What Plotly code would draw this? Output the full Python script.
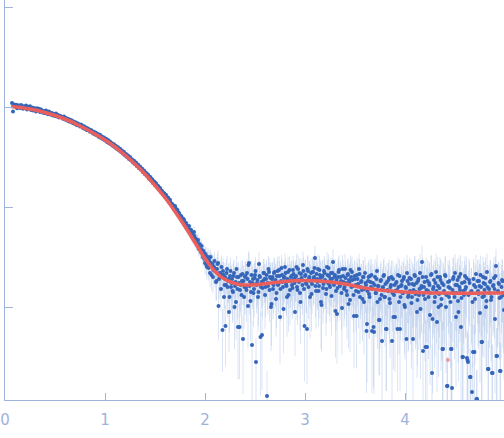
import numpy as np
import plotly.graph_objects as go

# scattering vector (nm^-1), main frames
q = [
    0.07, 0.08, 0.09, 0.10, 0.11, 0.12, 0.13, 0.14, 0.15, 0.16,
    0.17, 0.18, 0.19, 0.20, 0.21, 0.22, 0.23, 0.24, 0.25, 0.26,
    0.27, 0.28, 0.29, 0.30, 0.31, 0.32, 0.33, 0.34, 0.35, 0.36,
    0.37, 0.38, 0.39, 0.40, 0.41, 0.42, 0.43, 0.44, 0.45, 0.46,
    0.47, 0.48, 0.49, 0.50, 0.51, 0.52, 0.53, 0.54, 0.55, 0.56,
    0.57, 0.58, 0.59, 0.60, 0.61, 0.62, 0.63, 0.64, 0.65, 0.66,
    0.67, 0.68, 0.69, 0.70, 0.71, 0.72, 0.73, 0.74, 0.75, 0.76,
    0.77, 0.78, 0.79, 0.80, 0.81, 0.82, 0.83, 0.84, 0.85, 0.86,
    0.87, 0.88, 0.89, 0.90, 0.91, 0.92, 0.93, 0.94, 0.95, 0.96,
    0.97, 0.98, 0.99, 1.00, 1.01, 1.02, 1.03, 1.04, 1.05, 1.06,
    1.07, 1.08, 1.09, 1.10, 1.11, 1.12, 1.13, 1.14, 1.15, 1.16,
    1.17, 1.18, 1.19, 1.20, 1.21, 1.22, 1.23, 1.24, 1.25, 1.26,
    1.27, 1.28, 1.29, 1.30, 1.31, 1.32, 1.33, 1.34, 1.35, 1.36,
    1.37, 1.38, 1.39, 1.40, 1.41, 1.42, 1.43, 1.44, 1.45, 1.46,
    1.47, 1.48, 1.49, 1.50, 1.51, 1.52, 1.53, 1.54, 1.55, 1.56,
    1.57, 1.58, 1.59, 1.60, 1.61, 1.62, 1.63, 1.64, 1.65, 1.66,
    1.67, 1.68, 1.69, 1.70, 1.71, 1.72, 1.73, 1.74, 1.75, 1.76,
    1.77, 1.78, 1.79, 1.80, 1.81, 1.82, 1.83, 1.84, 1.85, 1.86,
    1.87, 1.88, 1.89, 1.90, 1.91, 1.92, 1.93, 1.94, 1.95, 1.96,
    1.97, 1.98, 1.99, 2.00, 2.01, 2.02, 2.03, 2.04, 2.05, 2.06,
    2.07, 2.08, 2.09, 2.10, 2.11, 2.12, 2.13, 2.14, 2.15, 2.16,
    2.17, 2.18, 2.19, 2.20, 2.21, 2.22, 2.23, 2.24, 2.25, 2.26,
    2.27, 2.28, 2.29, 2.30, 2.31, 2.32, 2.33, 2.34, 2.35, 2.36,
    2.37, 2.38, 2.39, 2.40, 2.41, 2.42, 2.43, 2.44, 2.45, 2.46,
    2.47, 2.48, 2.49, 2.50, 2.51, 2.52, 2.53, 2.54, 2.55, 2.56,
    2.57, 2.58, 2.59, 2.60, 2.61, 2.62, 2.63, 2.64, 2.65, 2.66,
    2.67, 2.68, 2.69, 2.70, 2.71, 2.72, 2.73, 2.74, 2.75, 2.76,
    2.77, 2.78, 2.79, 2.80, 2.81, 2.82, 2.83, 2.84, 2.85, 2.86,
    2.87, 2.88, 2.89, 2.90, 2.91, 2.92, 2.93, 2.94, 2.95, 2.96,
    2.97, 2.98, 2.99, 3.00, 3.01, 3.02, 3.03, 3.04, 3.05, 3.06,
    3.07, 3.08, 3.09, 3.10, 3.11, 3.12, 3.13, 3.14, 3.15, 3.16,
    3.17, 3.18, 3.19, 3.20, 3.21, 3.22, 3.23, 3.24, 3.25, 3.26,
    3.27, 3.28, 3.29, 3.30, 3.31, 3.32, 3.33, 3.34, 3.35, 3.36,
    3.37, 3.38, 3.39, 3.40, 3.41, 3.42, 3.43, 3.44, 3.45, 3.46,
    3.47, 3.48, 3.49, 3.50, 3.51, 3.52, 3.53, 3.54, 3.55, 3.56,
    3.57, 3.58, 3.59, 3.60, 3.61, 3.62, 3.63, 3.64, 3.65, 3.66,
    3.67, 3.68, 3.69, 3.70, 3.71, 3.72, 3.73, 3.74, 3.75, 3.76,
    3.77, 3.78, 3.79, 3.80, 3.81, 3.82, 3.83, 3.84, 3.85, 3.86,
    3.87, 3.88, 3.89, 3.90, 3.91, 3.92, 3.93, 3.94, 3.95, 3.96,
    3.97, 3.98, 3.99, 4.00, 4.01, 4.02, 4.03, 4.04, 4.05, 4.06,
    4.07, 4.08, 4.09, 4.10, 4.11, 4.12, 4.13, 4.14, 4.15, 4.16,
    4.17, 4.18, 4.19, 4.20, 4.21, 4.22, 4.23, 4.24, 4.25, 4.26,
    4.27, 4.28, 4.29, 4.30, 4.31, 4.32, 4.33, 4.34, 4.35, 4.36,
    4.37, 4.38, 4.39, 4.40, 4.41, 4.42, 4.43, 4.44, 4.45, 4.46,
    4.47, 4.48, 4.49, 4.50, 4.51, 4.52, 4.53, 4.54, 4.55, 4.56,
    4.57, 4.58, 4.59, 4.60, 4.61, 4.62, 4.63, 4.64, 4.65, 4.66,
    4.67, 4.68, 4.69, 4.70, 4.71, 4.72, 4.73, 4.74, 4.75, 4.76,
    4.77, 4.78, 4.79, 4.80, 4.81, 4.82, 4.83, 4.84, 4.85, 4.86,
    4.87, 4.88, 4.89, 4.90, 4.91, 4.92, 4.93, 4.94, 4.95, 4.96,
    4.97, 4.98, 4.99,
]

# log10 of the measured intensity, main frames
log_i = [
    0.04, -0.045, 0.025, 0.01, 0.022, -0.012, 0.018, 0.008, -0.01, 0.02,
    0.012, -0.018, 0.006, -0.004, 0.014, -0.026, 0.002, -0.01, 0.008, -0.03,
    -0.004, -0.036, -0.01, -0.022, -0.045, -0.012, -0.028, -0.018, -0.05, -0.024,
    -0.034, -0.058, -0.04, -0.062, -0.036, -0.05, -0.072, -0.046, -0.06, -0.078,
    -0.06, -0.085, -0.07, -0.09, -0.066, -0.096, -0.08, -0.105, -0.088, -0.094,
    -0.1, -0.118, -0.096, -0.126, -0.11, -0.134, -0.118, -0.144, -0.128, -0.15,
    -0.134, -0.162, -0.148, -0.17, -0.155, -0.182, -0.166, -0.178, -0.194, -0.176,
    -0.186, -0.21, -0.192, -0.22, -0.204, -0.232, -0.214, -0.226, -0.248, -0.23,
    -0.24, -0.264, -0.248, -0.276, -0.258, -0.285, -0.27, -0.3, -0.278, -0.31,
    -0.296, -0.322, -0.305, -0.334, -0.318, -0.35, -0.33, -0.362, -0.345, -0.375,
    -0.362, -0.39, -0.372, -0.405, -0.39, -0.42, -0.402, -0.436, -0.418, -0.45,
    -0.436, -0.468, -0.45, -0.484, -0.47, -0.5, -0.486, -0.52, -0.5, -0.536,
    -0.522, -0.556, -0.538, -0.572, -0.556, -0.592, -0.575, -0.612, -0.596, -0.628,
    -0.616, -0.652, -0.634, -0.672, -0.66, -0.69, -0.68, -0.718, -0.7, -0.735,
    -0.722, -0.76, -0.745, -0.78, -0.764, -0.8, -0.79, -0.826, -0.81, -0.85,
    -0.84, -0.876, -0.862, -0.9, -0.88, -0.925, -0.905, -0.95, -0.93, -0.975,
    -0.97, -1.0, -1.02, -0.99, -1.04, -1.03, -1.07, -1.06, -1.1, -1.09,
    -1.12, -1.15, -1.13, -1.18, -1.16, -1.2, -1.22, -1.19, -1.26, -1.23,
    -1.28, -1.31, -1.25, -1.34, -1.32, -1.37, -1.33, -1.42, -1.38, -1.45,
    -1.43, -1.5, -1.46, -1.56, -1.49, -1.6, -1.5, -1.53, -1.66, -1.56,
    -1.58, -1.7, -1.6, -1.64, -1.75, -1.62, -1.56, -1.72, -1.66, -1.82,
    -1.68, -1.64, -1.9, -1.7, -1.78, -1.62, -1.74, -2.05, -1.69, -1.8,
    -1.72, -1.85, -1.66, -1.79, -1.95, -1.7, -2.2, -1.76, -1.83, -1.68,
    -1.74, -2.32, -1.9, -1.7, -1.8, -1.66, -1.99, -1.56, -1.75, -1.85,
    -2.38, -1.72, -1.82, -1.68, -2.55, -1.76, -1.9, -1.57, -1.7, -1.8,
    -2.28, -1.74, -1.66, -1.88, -1.72, -2.89, -1.79, -1.65, -1.7, -2.0,
    -1.72, -1.82, -1.66, -1.75, -1.92, -1.69, -1.78, -1.63, -2.1, -1.74,
    -1.68, -1.8, -1.71, -1.6, -1.77, -1.9, -1.65, -1.74, -1.83, -1.7,
    -1.78, -1.63, -1.72, -2.05, -1.69, -1.8, -1.62, -1.75, -1.86, -1.67,
    -1.73, -1.58, -1.82, -1.69, -1.76, -2.22, -1.64, -1.71, -1.9, -1.66,
    -1.77, -1.65, -1.7, -1.51, -1.84, -1.72, -1.62, -1.79, -1.68, -1.95,
    -1.7, -1.81, -1.64, -1.73, -1.87, -1.6, -1.76, -1.69, -1.8, -1.66,
    -1.72, -1.55, -1.78, -1.68, -1.84, -2.07, -1.7, -1.63, -1.79, -1.74,
    -2.01, -1.69, -1.82, -1.62, -1.76, -1.88, -1.67, -1.73, -1.93, -1.7,
    -1.65, -1.79, -2.09, -1.72, -1.84, -1.68, -1.77, -1.62, -1.9, -1.75,
    -1.83, -1.7, -1.95, -1.66, -1.78, -2.17, -1.74, -1.87, -1.69, -1.8,
    -2.24, -1.76, -2.25, -1.7, -1.86, -1.64, -1.79, -2.13, -1.92, -1.73,
    -2.34, -1.8, -1.68, -1.9, -2.22, -1.75, -1.84, -1.71, -1.96, -1.78,
    -2.34, -1.72, -1.88, -2.1, -1.76, -1.83, -1.68, -1.95, -2.22, -1.79,
    -1.74, -1.86, -1.7, -2.0, -1.81, -1.66, -1.9, -1.77, -1.84, -1.72,
    -1.9, -2.32, -1.78, -1.69, -1.85, -2.05, -1.74, -1.88, -1.66, -1.81,
    -1.55, -2.44, -1.8, -1.92, -1.7, -2.4, -1.84, -1.76, -2.08, -1.68,
    -2.66, -1.82, -1.73, -1.9, -1.65, -2.15, -1.79, -1.87, -1.7, -1.98,
    -1.76, -2.42, -1.84, -1.68, -2.0, -2.79, -1.75, -1.9, -1.81, -2.42,
    -2.81, -1.72, -1.86, -1.66, -2.1, -1.78, -1.94, -1.7, -1.83, -2.2,
    -1.76, -2.5, -1.88, -1.69, -1.8, -2.51, -2.55, -1.73, -2.7, -1.85,
    -2.85, -2.45, -1.78, -1.92, -1.67, -2.92, -1.84, -1.74, -2.06, -1.8,
    -2.35, -1.7, -1.89, -1.77, -2.0, -1.65, -2.62, -1.82, -1.75, -1.93,
    -2.66, -1.79, -1.71, -2.12, -1.59, -2.49, -1.84, -1.77, -2.64, -1.9,
    -1.73, -1.86, -2.03,
]

# error of each point, percent of its intensity
err_pct = [
    1, 1, 1, 1, 1, 1, 1, 1, 1, 1,
    1, 1, 1, 1, 1, 1, 1, 1, 1, 1,
    1, 1, 1, 1, 1, 1, 1, 1, 1, 1,
    1, 1, 1, 1, 1, 1, 1, 1, 1, 1,
    1, 1, 1, 1, 1, 1, 1, 1, 1, 1,
    1, 1, 1, 1, 1, 1, 1, 1, 1, 1,
    1, 1, 1, 1, 1, 1, 1, 1, 1, 1,
    1, 1, 1, 1, 1, 1, 1, 1, 1, 1,
    1, 1, 1, 1, 1, 1, 1, 1, 1, 1,
    2, 2, 2, 2, 2, 2, 2, 2, 2, 2,
    2, 2, 2, 2, 2, 2, 2, 2, 2, 2,
    2, 2, 2, 2, 2, 2, 2, 2, 2, 2,
    2, 2, 2, 2, 2, 2, 2, 2, 2, 2,
    2, 2, 2, 2, 2, 2, 2, 2, 2, 2,
    3, 3, 3, 3, 3, 3, 4, 3, 4, 4,
    4, 4, 5, 4, 5, 5, 5, 6, 5, 6,
    6, 6, 7, 6, 7, 8, 7, 8, 8, 9,
    9, 10, 9, 11, 10, 12, 12, 11, 13, 12,
    14, 13, 15, 14, 16, 15, 17, 16, 18, 17,
    19, 21, 20, 23, 22, 25, 24, 26, 28, 27,
    29, 31, 30, 33, 35, 32, 34, 37, 36, 40,
    36, 34, 50, 38, 42, 35, 40, 60, 37, 44,
    40, 48, 36, 44, 58, 38, 70, 42, 46, 38,
    42, 72, 52, 40, 46, 38, 62, 32, 44, 50,
    74, 42, 48, 40, 76, 45, 55, 32, 42, 48,
    72, 44, 38, 54, 43, 78, 48, 38, 42, 64,
    45, 50, 40, 46, 58, 42, 50, 38, 66, 46,
    43, 52, 45, 36, 49, 60, 41, 47, 55, 44,
    50, 38, 46, 64, 44, 53, 38, 48, 58, 43,
    48, 36, 56, 45, 50, 72, 41, 47, 62, 42,
    50, 42, 46, 32, 58, 48, 40, 53, 45, 66,
    46, 56, 41, 49, 62, 40, 51, 46, 55, 43,
    48, 34, 53, 45, 60, 68, 46, 41, 55, 50,
    66, 46, 58, 41, 52, 64, 44, 50, 70, 48,
    43, 55, 70, 50, 61, 46, 54, 42, 66, 52,
    60, 48, 70, 45, 56, 74, 52, 64, 48, 58,
    76, 55, 76, 50, 64, 45, 58, 72, 68, 53,
    78, 60, 48, 68, 76, 55, 63, 51, 72, 57,
    78, 53, 66, 72, 58, 64, 50, 70, 76, 60,
    57, 68, 54, 70, 64, 52, 72, 60, 66, 56,
    72, 85, 62, 56, 70, 78, 60, 72, 55, 66,
    45, 88, 66, 76, 56, 86, 70, 64, 80, 55,
    92, 68, 60, 74, 52, 80, 66, 72, 58, 78,
    66, 88, 70, 56, 78, 94, 64, 76, 68, 88,
    94, 62, 72, 55, 80, 66, 76, 60, 70, 84,
    66, 90, 74, 58, 68, 90, 91, 62, 93, 72,
    94, 88, 68, 78, 56, 95, 72, 64, 80, 68,
    86, 60, 76, 66, 78, 54, 92, 70, 65, 76,
    92, 68, 62, 82, 48, 90, 72, 66, 92, 76,
    62, 72, 80,
]

# interleaved frames across the decay
q3 = [
    1.405, 1.415, 1.425, 1.435, 1.445, 1.455, 1.465, 1.475, 1.485, 1.495,
    1.505, 1.515, 1.525, 1.535, 1.545, 1.555, 1.565, 1.575, 1.585, 1.595,
    1.605, 1.615, 1.625, 1.635, 1.645, 1.655, 1.665, 1.675, 1.685, 1.695,
    1.705, 1.715, 1.725, 1.735, 1.745, 1.755, 1.765, 1.775, 1.785, 1.795,
    1.805, 1.815, 1.825, 1.835, 1.845, 1.855, 1.865, 1.875, 1.885, 1.895,
    1.905, 1.915, 1.925, 1.935, 1.945, 1.955, 1.965, 1.975, 1.985, 1.995,
]

log_i3 = [
    -0.655, -0.67, -0.672, -0.69, -0.7, -0.705, -0.722, -0.73, -0.748, -0.752,
    -0.76, -0.785, -0.79, -0.8, -0.815, -0.83, -0.835, -0.85, -0.87, -0.868,
    -0.88, -0.905, -0.91, -0.93, -0.925, -0.955, -0.97, -0.975, -0.99, -1.01,
    -1.01, -1.045, -1.03, -1.06, -1.08, -1.09, -1.1, -1.13, -1.12, -1.16,
    -1.16, -1.2, -1.19, -1.21, -1.24, -1.23, -1.27, -1.26, -1.3, -1.29,
    -1.32, -1.36, -1.34, -1.4, -1.37, -1.43, -1.39, -1.47, -1.44, -1.52,
]

err_pct3 = [
    2, 2, 2, 2, 2, 2, 2, 2, 2, 2,
    3, 3, 3, 3, 3, 3, 3, 3, 3, 3,
    5, 5, 5, 5, 5, 5, 5, 5, 5, 5,
    7, 7, 7, 7, 7, 7, 7, 7, 7, 7,
    10, 11, 10, 12, 11, 10, 12, 11, 12, 12,
    15, 16, 15, 17, 16, 18, 17, 16, 18, 17,
]

# interleaved frames at high q
q2 = [
    2.005, 2.015, 2.025, 2.035, 2.045, 2.055, 2.065, 2.075, 2.085, 2.095,
    2.105, 2.115, 2.125, 2.135, 2.145, 2.155, 2.165, 2.175, 2.185, 2.195,
    2.205, 2.215, 2.225, 2.235, 2.245, 2.255, 2.265, 2.275, 2.285, 2.295,
    2.305, 2.315, 2.325, 2.335, 2.345, 2.355, 2.365, 2.375, 2.385, 2.395,
    2.405, 2.415, 2.425, 2.435, 2.445, 2.455, 2.465, 2.475, 2.485, 2.495,
    2.505, 2.515, 2.525, 2.535, 2.545, 2.555, 2.565, 2.575, 2.585, 2.595,
    2.605, 2.615, 2.625, 2.635, 2.645, 2.655, 2.665, 2.675, 2.685, 2.695,
    2.705, 2.715, 2.725, 2.735, 2.745, 2.755, 2.765, 2.775, 2.785, 2.795,
    2.805, 2.815, 2.825, 2.835, 2.845, 2.855, 2.865, 2.875, 2.885, 2.895,
    2.905, 2.915, 2.925, 2.935, 2.945, 2.955, 2.965, 2.975, 2.985, 2.995,
    3.005, 3.015, 3.025, 3.035, 3.045, 3.055, 3.065, 3.075, 3.085, 3.095,
    3.105, 3.115, 3.125, 3.135, 3.145, 3.155, 3.165, 3.175, 3.185, 3.195,
    3.205, 3.215, 3.225, 3.235, 3.245, 3.255, 3.265, 3.275, 3.285, 3.295,
    3.305, 3.315, 3.325, 3.335, 3.345, 3.355, 3.365, 3.375, 3.385, 3.395,
    3.405, 3.415, 3.425, 3.435, 3.445, 3.455, 3.465, 3.475, 3.485, 3.495,
    3.505, 3.515, 3.525, 3.535, 3.545, 3.555, 3.565, 3.575, 3.585, 3.595,
    3.605, 3.615, 3.625, 3.635, 3.645, 3.655, 3.665, 3.675, 3.685, 3.695,
    3.705, 3.715, 3.725, 3.735, 3.745, 3.755, 3.765, 3.775, 3.785, 3.795,
    3.805, 3.815, 3.825, 3.835, 3.845, 3.855, 3.865, 3.875, 3.885, 3.895,
    3.905, 3.915, 3.925, 3.935, 3.945, 3.955, 3.965, 3.975, 3.985, 3.995,
    4.005, 4.015, 4.025, 4.035, 4.045, 4.055, 4.065, 4.075, 4.085, 4.095,
    4.105, 4.115, 4.125, 4.135, 4.145, 4.155, 4.165, 4.175, 4.185, 4.195,
    4.205, 4.215, 4.225, 4.235, 4.245, 4.255, 4.265, 4.275, 4.285, 4.295,
    4.305, 4.315, 4.325, 4.335, 4.345, 4.355, 4.365, 4.375, 4.385, 4.395,
    4.405, 4.415, 4.425, 4.435, 4.445, 4.455, 4.465, 4.475, 4.485, 4.495,
    4.505, 4.515, 4.525, 4.535, 4.545, 4.555, 4.565, 4.575, 4.585, 4.595,
    4.605, 4.615, 4.625, 4.635, 4.645, 4.655, 4.665, 4.675, 4.685, 4.695,
    4.705, 4.715, 4.725, 4.735, 4.745, 4.755, 4.765, 4.775, 4.785, 4.795,
    4.805, 4.815, 4.825, 4.835, 4.845, 4.855, 4.865, 4.875, 4.885, 4.895,
    4.905, 4.915, 4.925, 4.935, 4.945, 4.955, 4.965, 4.975, 4.985,
]

log_i2 = [
    -1.47, -1.58, -1.52, -1.61, -1.55, -1.5, -1.68, -1.57, -1.63, -1.54,
    -1.62, -1.74, -1.57, -1.99, -1.66, -1.7, -1.6, -2.23, -1.68, -1.78,
    -2.19, -1.66, -1.8, -1.72, -1.9, -1.64, -1.76, -1.84, -1.69, -2.0,
    -1.75, -1.62, -1.82, -1.7, -2.2, -1.78, -1.88, -1.67, -1.74, -1.8,
    -1.69, -1.83, -1.72, -1.58, -1.79, -1.94, -1.68, -1.76, -1.86, -1.71,
    -1.64, -1.78, -1.73, -1.85, -1.69, -2.3, -1.75, -1.81, -1.66, -1.72,
    -1.8, -1.68, -1.76, -1.62, -1.83, -1.71, -1.97, -1.7, -1.78, -1.65,
    -1.73, -1.86, -1.64, -1.77, -1.69, -1.82, -1.61, -1.75, -2.02, -1.7,
    -1.66, -1.79, -1.72, -1.88, -1.63, -1.74, -1.69, -1.81, -1.67, -1.76,
    -1.7, -1.6, -1.83, -1.73, -1.66, -1.95, -1.71, -1.78, -1.64, -2.19,
    -1.68, -1.77, -1.62, -1.8, -1.7, -1.74, -1.87, -1.65, -1.72, -1.61,
    -1.79, -1.67, -1.75, -1.84, -1.63, -1.71, -1.98, -1.69, -1.77, -1.66,
    -1.74, -1.82, -1.68, -1.61, -1.78, -1.72, -1.89, -1.66, -1.76, -1.7,
    -2.04, -1.73, -1.81, -1.65, -1.77, -1.7, -1.86, -1.62, -1.75, -1.8,
    -1.71, -1.84, -1.68, -1.97, -1.75, -1.63, -1.8, -1.73, -1.88, -1.69,
    -1.78, -2.09, -1.72, -1.85, -1.67, -1.8, -1.74, -1.92, -1.7, -1.82,
    -1.76, -2.24, -1.84, -1.7, -1.9, -1.75, -1.68, -1.82, -2.2, -1.78,
    -1.86, -1.72, -1.95, -1.79, -2.13, -1.74, -1.88, -1.81, -1.69, -1.9,
    -1.77, -2.22, -1.83, -1.73, -1.92, -1.8, -1.7, -1.86, -2.1, -1.78,
    -1.84, -1.75, -2.22, -1.8, -1.69, -1.9, -1.78, -1.86, -1.72, -1.98,
    -1.8, -2.32, -1.74, -1.88, -1.71, -1.85, -1.96, -1.77, -1.83, -1.68,
    -1.87, -1.76, -1.93, -1.72, -1.82, -2.02, -1.79, -1.7, -1.88, -1.75,
    -2.4, -1.83, -1.74, -1.9, -1.78, -1.86, -1.67, -2.12, -1.8, -1.95,
    -1.76, -1.84, -1.7, -2.0, -1.81, -1.73, -1.92, -2.42, -1.78, -1.86,
    -1.69, -1.88, -2.79, -1.8, -1.74, -1.95, -2.42, -1.83, -1.7, -1.9,
    -1.78, -1.86, -1.73, -2.05, -1.8, -1.67, -1.91, -2.5, -1.84, -1.75,
    -1.82, -1.71, -2.53, -1.88, -1.76, -2.7, -1.84, -1.95, -1.72, -2.45,
    -1.8, -2.92, -1.74, -1.87, -1.79, -1.68, -2.35, -1.9, -1.76, -1.83,
    -1.71, -1.94, -1.8, -2.62, -1.86, -1.74, -1.9, -2.66, -1.78, -1.82,
    -1.69, -2.49, -1.85, -1.76, -1.91, -2.64, -1.8, -1.74, -1.88,
]

err_pct2 = [
    18, 22, 20, 25, 22, 19, 30, 24, 28, 23,
    30, 36, 28, 55, 33, 36, 30, 62, 35, 42,
    60, 38, 50, 42, 56, 36, 46, 52, 40, 62,
    44, 35, 50, 40, 70, 46, 55, 38, 43, 48,
    40, 52, 42, 32, 48, 60, 39, 45, 54, 41,
    37, 48, 44, 54, 40, 74, 45, 50, 38, 42,
    50, 41, 46, 36, 52, 42, 62, 41, 48, 38,
    45, 55, 38, 48, 42, 52, 35, 46, 64, 42,
    40, 50, 44, 57, 37, 46, 42, 51, 40, 48,
    43, 36, 55, 46, 40, 62, 44, 50, 38, 72,
    42, 49, 38, 52, 44, 47, 58, 40, 46, 37,
    51, 41, 48, 56, 39, 45, 66, 43, 49, 40,
    47, 54, 42, 37, 51, 46, 60, 41, 49, 44,
    66, 46, 54, 40, 50, 44, 58, 38, 48, 52,
    45, 56, 43, 64, 49, 40, 52, 46, 58, 43,
    50, 70, 46, 57, 42, 52, 48, 62, 45, 54,
    50, 76, 56, 45, 62, 49, 43, 55, 75, 51,
    58, 47, 66, 53, 72, 48, 60, 55, 45, 63,
    52, 76, 56, 48, 64, 53, 46, 59, 70, 52,
    58, 50, 76, 55, 46, 63, 53, 59, 48, 68,
    68, 85, 62, 72, 58, 70, 78, 64, 68, 56,
    72, 64, 78, 58, 68, 80, 65, 56, 72, 62,
    88, 70, 62, 76, 65, 72, 55, 82, 66, 78,
    64, 70, 58, 80, 68, 62, 76, 88, 65, 72,
    56, 72, 94, 66, 62, 78, 88, 70, 58, 76,
    65, 72, 62, 80, 66, 55, 76, 90, 70, 63,
    68, 60, 90, 74, 63, 92, 70, 78, 60, 88,
    66, 95, 62, 72, 66, 56, 86, 74, 63, 70,
    60, 78, 66, 92, 72, 62, 76, 92, 65, 68,
    56, 90, 72, 63, 76, 92, 66, 62, 74,
]

# model fit curve
fit_q = [0.06, 0.1, 0.2, 0.3, 0.4, 0.5, 0.6, 0.7, 0.8, 0.9, 1.0, 1.1, 1.2, 1.3,
         1.4, 1.5, 1.6, 1.7, 1.8, 1.9, 2.0, 2.1, 2.2, 2.3, 2.4, 2.5, 2.6, 2.7,
         2.8, 2.9, 3.0, 3.2, 3.4, 3.6, 3.8, 4.0, 4.2, 4.4, 4.6, 4.8, 5.0]
fit_log = [0.004, 0.0, -0.012, -0.03, -0.055, -0.085, -0.12, -0.165, -0.215,
           -0.27, -0.33, -0.40, -0.48, -0.57, -0.67, -0.785, -0.905, -1.045,
           -1.195, -1.355, -1.515, -1.645, -1.725, -1.765, -1.78, -1.778,
           -1.768, -1.755, -1.744, -1.737, -1.735, -1.745, -1.77, -1.81,
           -1.835, -1.85, -1.857, -1.86, -1.862, -1.861, -1.86]

# excluded point
excl_q = [4.43]
excl_log = [-2.53]

AXIS = "#9fb3dc"

all_q = q + q3 + q2
inten = np.power(10.0, log_i + log_i3 + log_i2)
err = inten * np.array(err_pct + err_pct3 + err_pct2) / 100.0
err_lo = np.minimum(err, inten * 0.999)

fig = go.Figure()
fig.add_trace(go.Scatter(
    x=all_q, y=inten, mode="markers",
    marker=dict(size=4, color="#3565b9"),
    error_y=dict(type="data", array=err, arrayminus=err_lo, symmetric=False,
                 color="rgba(176,198,232,0.45)", thickness=1, width=0),
    showlegend=False,
))
fig.add_trace(go.Scatter(
    x=excl_q, y=np.power(10.0, excl_log), mode="markers",
    marker=dict(size=4, color="rgba(240,120,120,0.7)"), showlegend=False,
))
fig.add_trace(go.Scatter(
    x=fit_q, y=np.power(10.0, fit_log), mode="lines",
    line=dict(color="#ea5f5c", width=3.5, shape="spline"), showlegend=False,
))
fig.update_layout(
    width=504, height=438,
    margin=dict(l=5, r=0, t=0, b=38),
    plot_bgcolor="white", paper_bgcolor="white",
    font=dict(family="DejaVu Sans", size=15, color=AXIS),
)
fig.update_xaxes(range=[0, 4.99], tickvals=[0, 1, 2, 3, 4], ticks="inside",
                 ticklen=7, tickcolor=AXIS, showline=True, linecolor=AXIS,
                 linewidth=1, showgrid=False, zeroline=False,
                 ticklabelstandoff=6)
fig.update_yaxes(type="log", range=[-2.93, 1.07], tickvals=[0.01, 0.1, 1, 10],
                 showticklabels=False, ticks="inside", ticklen=8,
                 tickcolor=AXIS, showline=True, linecolor=AXIS, linewidth=1,
                 showgrid=False, zeroline=False)
fig.write_html("out.html", config={"displayModeBar": False},
               post_script="document.body.style.margin='0';")
